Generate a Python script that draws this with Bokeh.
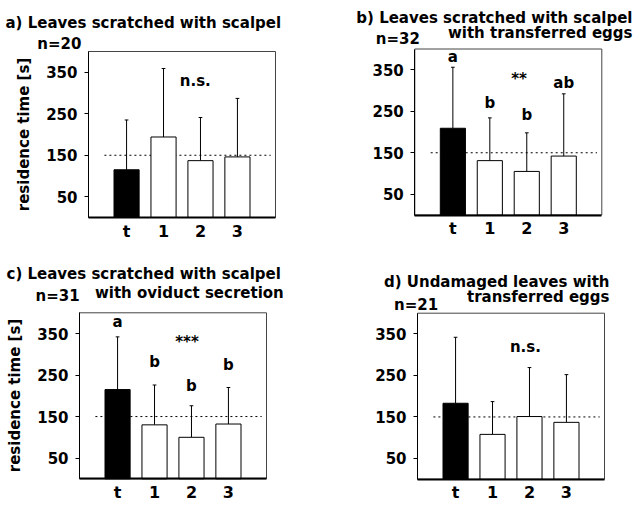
from bokeh.plotting import figure
from bokeh.models import FixedTicker, Label, Range1d
from bokeh.layouts import column, row
from bokeh.core.properties import value
from bokeh.embed import file_html
from bokeh.resources import INLINE

# ---------------- data ----------------
categories = ["t", "1", "2", "3"]
bar_colors = ["black", "white", "white", "white"]
y_ticks = [50, 150, 250, 350]
reference_line = 150

a_mean = [115, 194, 137, 146]
a_upper = [235, 359, 241, 287]
b_mean = [209, 131, 105, 142]
b_upper = [356, 234, 198, 292]
c_mean = [215, 130, 100, 132]
c_upper = [342, 226, 176, 220]
d_mean = [183, 108, 151, 137]
d_upper = [342, 187, 269, 252]

b_letters = ["a", "b", "b", "ab"]
b_letter_y = [360, 249, 220, 297]
c_letters = ["a", "b", "b", "b"]
c_letter_y = [355, 260, 203, 252]

a_sig, b_sig, c_sig, d_sig = "n.s.", "**", "***", "n.s."
a_n, b_n, c_n, d_n = "n=20", "n=32", "n=31", "n=21"
y_label = "residence time [s]"

# ---------------- layout constants ----------------
FONT = "DejaVu Sans"
XS = [1, 2, 3, 4]
BOX_X = (-0.03, 5.03)
Y_MAX = 400
BOX_W, BOX_H = 187, 166      # px of the boxed plotting area


def make_panel(mean, upper, W, H, L, T, titles, n_text, n_px, sig, sig_pos,
               ylabel=None, letters=None, letter_y=None):
    ppx = BOX_W / (BOX_X[1] - BOX_X[0])
    ppy = BOX_H / Y_MAX
    xs = BOX_X[0] - L / ppx
    xe = xs + W / ppx
    ys = -(H - T - BOX_H) / ppy
    ye = ys + H / ppy

    def at(rx, ry):
        return xs + rx / ppx, ye - ry / ppy

    p = figure(width=W, height=H, x_range=Range1d(xs, xe),
               y_range=Range1d(ys, ye), output_backend="svg",
               toolbar_location=None, title=None,
               min_border_left=0, min_border_right=0,
               min_border_top=0, min_border_bottom=0)
    p.outline_line_color = None
    p.background_fill_color = "white"
    p.border_fill_color = "white"
    p.xgrid.visible = False
    p.ygrid.visible = False

    # box
    p.quad(left=[BOX_X[0]], right=[BOX_X[1]], bottom=[0], top=[Y_MAX],
           fill_color=None, line_color="#444444", line_width=1)

    # x axis
    xa = p.xaxis[0]
    xa.fixed_location = 0
    xa.bounds = BOX_X
    xa.ticker = FixedTicker(ticks=XS)
    xa.major_label_overrides = {x: c for x, c in zip(XS, categories)}
    xa.major_tick_out = 0
    xa.major_tick_in = 0
    xa.minor_tick_line_color = None
    xa.major_label_standoff = 4
    xa.major_label_text_font = FONT
    xa.major_label_text_font_style = "bold"
    xa.major_label_text_font_size = "16px"
    xa.major_label_text_color = "black"
    xa.axis_line_color = "black"
    xa.axis_line_width = 2

    # y axis
    ya = p.yaxis[0]
    ya.fixed_location = BOX_X[0]
    ya.bounds = (0, Y_MAX)
    ya.ticker = FixedTicker(ticks=y_ticks)
    ya.major_tick_out = 4
    ya.major_tick_in = 0
    ya.major_tick_line_color = "black"
    ya.minor_tick_line_color = None
    ya.major_label_standoff = 7
    ya.major_label_text_font = FONT
    ya.major_label_text_font_style = "bold"
    ya.major_label_text_font_size = "15px"
    ya.major_label_text_color = "black"
    ya.axis_line_color = "black"
    ya.axis_line_width = 1
    if ylabel:
        ya.axis_label = ylabel
        ya.axis_label_text_font = FONT
        ya.axis_label_text_font_style = "bold"
        ya.axis_label_text_font_size = "15px"
        ya.axis_label_text_color = "black"
        ya.axis_label_standoff = 10

    # reference line
    p.segment(x0=[0.4], y0=[reference_line], x1=[4.9], y1=[reference_line],
              line_color="black", line_width=1, line_dash="2 3")

    # error bars
    p.segment(x0=XS, y0=mean, x1=XS, y1=upper, line_color="black", line_width=1)
    p.segment(x0=[x - 0.05 for x in XS], y0=upper, x1=[x + 0.05 for x in XS],
              y1=upper, line_color="black", line_width=1)

    # bars
    p.vbar(x=XS, top=mean, bottom=0, width=0.68, fill_color=bar_colors,
           line_color="black", line_width=1)

    # letters
    if letters:
        p.text(x=XS, y=letter_y, text=letters, text_align="center",
               text_baseline="bottom", text_font=value(FONT),
               text_font_style="bold", text_font_size="15px",
               text_color="black")

    # significance
    p.add_layout(Label(x=sig_pos[0], y=sig_pos[1], text=sig,
                       text_align="center", text_baseline="middle",
                       text_font=FONT, text_font_style="bold",
                       text_font_size="15px", text_color="black"))

    # titles
    for text, rx, ry, align in titles + [(n_text, n_px[0], n_px[1], "left")]:
        x, y = at(rx, ry)
        p.add_layout(Label(x=x, y=y, text=text, text_align=align,
                           text_baseline="alphabetic", text_font=FONT,
                           text_font_style="bold", text_font_size="15px",
                           text_color="black"))
    return p


pa = make_panel(a_mean, a_upper, 322, 250, 88, 51,
                [("a) Leaves scratched with scalpel", 5, 22.5, "left")],
                a_n, (36.7, 43.3), a_sig, (2.86, 329), ylabel=y_label)
pb = make_panel(b_mean, b_upper, 320, 250, 92.3, 48.5,
                [("b) Leaves scratched with scalpel", 310, 17, "right"),
                 ("with transferred eggs", 310, 32, "right")],
                b_n, (53.3, 38), b_sig, (2.79, 327),
                letters=b_letters, letter_y=b_letter_y)
pc = make_panel(c_mean, c_upper, 322, 253, 79, 62.3,
                [("c) Leaves scratched with scalpel", 6, 23, "left"),
                 ("with oviduct secretion", 283.3, 42, "right")],
                c_n, (35, 45), c_sig, (2.88, 330), ylabel=y_label,
                letters=c_letters, letter_y=c_letter_y)
pd = make_panel(d_mean, d_upper, 320, 253, 95, 62.7,
                [("d) Undamaged leaves with", 287, 31, "right"),
                 ("transferred eggs", 287, 46.7, "right")],
                d_n, (71.5, 54.5), d_sig, (2.89, 319))

layout = column(row(pa, pb), row(pc, pd))
open("out.html", "w").write(file_html(layout, INLINE))
